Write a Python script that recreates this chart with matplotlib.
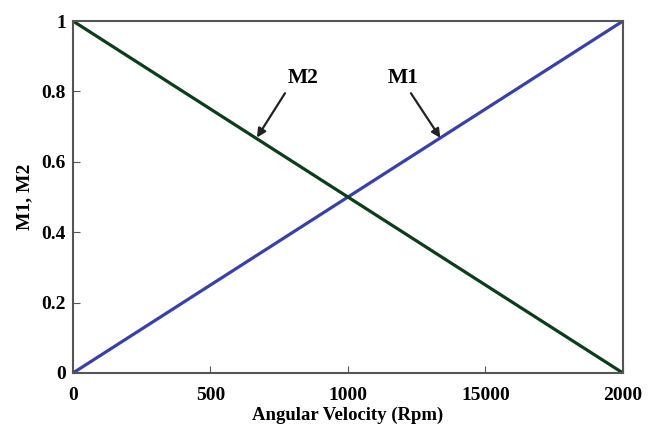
import matplotlib
matplotlib.use("Agg")
import matplotlib.pyplot as plt
import numpy as np

x_vals = [0, 2000]
m1_vals = [0, 1]
m2_vals = [1, 0]
xtick_pos = [0, 500, 1000, 1500, 2000]
xtick_labels = ["0", "500", "1000", "15000", "2000"]
ytick_pos = [0, 0.2, 0.4, 0.6, 0.8, 1]
ytick_labels = ["0", "0.2", "0.4", "0.6", "0.8", "1"]

plt.rcParams['font.family'] = ['Liberation Serif', 'DejaVu Serif']
plt.rcParams['font.weight'] = 'bold'

fig = plt.figure(figsize=(6.5, 4.3), dpi=100)
ax = fig.add_axes([0.1123, 0.1326, 0.846, 0.8184])
ax.plot(x_vals, m1_vals, color='#3a40aa', lw=2.3, solid_capstyle='round')
ax.plot(x_vals, m2_vals, color='#0b3d1a', lw=2.3, solid_capstyle='round')
ax.set_xlim(0, 2000)
ax.set_ylim(0, 1)
ax.set_xticks(xtick_pos)
ax.set_xticklabels(xtick_labels, fontsize=14, fontweight='bold')
ax.set_yticks(ytick_pos)
ax.set_yticklabels(ytick_labels, fontsize=14, fontweight='bold')
ax.tick_params(direction='in', length=5, color='#555555')
ax.tick_params(axis='x', pad=10)
ax.tick_params(axis='y', pad=5)
for s in ax.spines.values():
    s.set_color('#555555')
    s.set_linewidth(1.5)
ax.set_xlabel('Angular Velocity (Rpm)', fontsize=13.5, fontweight='bold', labelpad=2)
ax.set_ylabel('M1, M2', fontsize=14, fontweight='bold', labelpad=6)

arrow_kw = dict(arrowstyle='-|>', color='#222222', lw=1.6, shrinkA=0, shrinkB=0,
                mutation_scale=13)
ax.text(836, 0.838, 'M2', fontsize=15.5, fontweight='bold', ha='center', va='center')
ax.annotate('', xy=(669, 0.669), xytext=(771, 0.795), arrowprops=arrow_kw)
ax.text(1200, 0.838, 'M1', fontsize=15.5, fontweight='bold', ha='center', va='center')
ax.annotate('', xy=(1336, 0.668), xytext=(1229, 0.795), arrowprops=arrow_kw)

fig.savefig('out.png', dpi=100)
